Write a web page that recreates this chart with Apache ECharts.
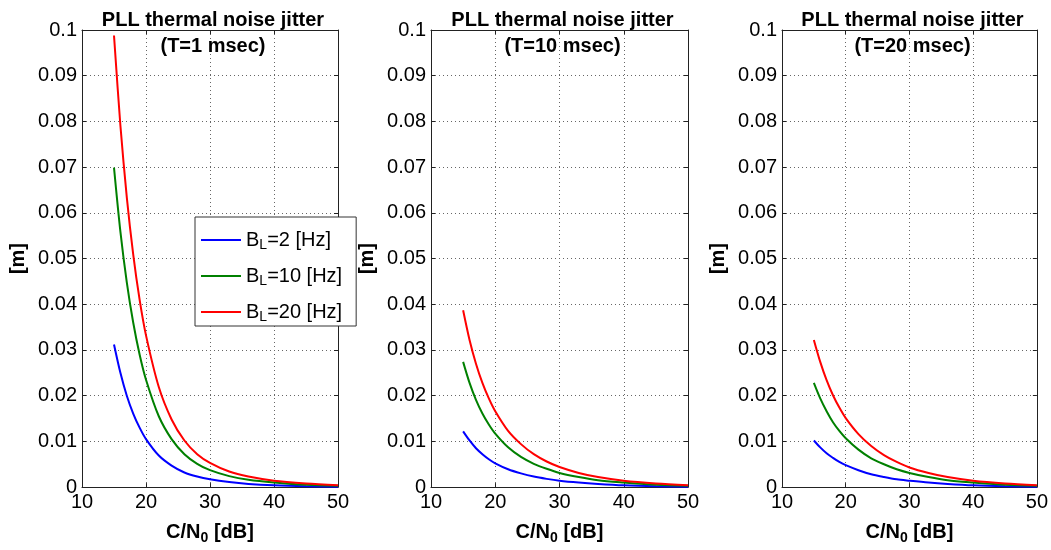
<!DOCTYPE html>
<html>
<head>
<meta charset="utf-8">
<script src="https://cdn.jsdelivr.net/npm/echarts@6/dist/echarts.min.js"></script>
<style>
  html, body { margin: 0; padding: 0; background: #fff; }
  #chartsId { width: 1051px; height: 550px; }
</style>
</head>
<body>
<div id="chartsId"></div>
<script>
// C/N0 [dB] sample points
const cn0 = [15, 16, 17, 18, 19, 20, 22, 24, 26, 28, 30, 33, 36, 40, 45, 50];

// T = 1 msec
const blue1 = [0.0312, 0.0250, 0.0200, 0.0161, 0.0130, 0.0105, 0.0069, 0.0047, 0.0032, 0.0023, 0.0017, 0.0011, 0.0007, 0.0004, 0.0002, 0.0001];
const green1 = [0.0699, 0.0559, 0.0448, 0.0360, 0.0290, 0.0235, 0.0155, 0.0105, 0.0072, 0.0051, 0.0037, 0.0024, 0.0016, 0.0010, 0.0005, 0.0003];
const red1 = [0.0988, 0.0791, 0.0634, 0.0509, 0.0410, 0.0332, 0.0219, 0.0148, 0.0102, 0.0072, 0.0053, 0.0034, 0.0023, 0.0014, 0.0008, 0.0004];

// T = 10 msec
const blue10 = [0.0122, 0.0102, 0.0085, 0.0072, 0.0061, 0.0052, 0.0039, 0.0030, 0.0023, 0.0018, 0.0014, 0.0010, 0.0007, 0.0004, 0.0002, 0.0001];
const green10 = [0.0274, 0.0228, 0.0191, 0.0161, 0.0137, 0.0117, 0.0087, 0.0066, 0.0051, 0.0040, 0.0031, 0.0022, 0.0015, 0.0010, 0.0005, 0.0003];
const red10 = [0.0387, 0.0322, 0.0270, 0.0228, 0.0194, 0.0166, 0.0123, 0.0094, 0.0072, 0.0056, 0.0044, 0.0031, 0.0022, 0.0014, 0.0008, 0.0004];

// T = 20 msec
const blue20 = [0.0102, 0.0087, 0.0074, 0.0064, 0.0055, 0.0048, 0.0037, 0.0028, 0.0022, 0.0017, 0.0014, 0.0010, 0.0007, 0.0004, 0.0002, 0.0001];
const green20 = [0.0228, 0.0194, 0.0166, 0.0142, 0.0123, 0.0107, 0.0082, 0.0063, 0.0050, 0.0039, 0.0031, 0.0022, 0.0015, 0.0010, 0.0005, 0.0003];
const red20 = [0.0322, 0.0274, 0.0234, 0.0201, 0.0174, 0.0151, 0.0116, 0.0090, 0.0070, 0.0055, 0.0043, 0.0031, 0.0022, 0.0014, 0.0008, 0.0004];

const titles = ["(T=1 msec)", "(T=10 msec)", "(T=20 msec)"];
const legendNames = ["BL=2 [Hz]", "BL=10 [Hz]", "BL=20 [Hz]"];
const colors = ["#0000ff", "#008000", "#ff0000"];

const panels = [
  [blue1, green1, red1],
  [blue10, green10, red10],
  [blue20, green20, red20]
];

const font = "Liberation Sans, Arial, sans-serif";
const grids = [
  { left: 82, width: 256 },
  { left: 431, width: 257 },
  { left: 782, width: 255 }
];

let myChart = echarts.init(document.getElementById("chartsId"));

let title = [];
let xAxis = [];
let yAxis = [];
let series = [];
const boxLine = { onZero: false, lineStyle: { color: "#222", width: 1 } };
const tick = { inside: true, length: 4, lineStyle: { color: "#222" } };
const dotted = { show: true, lineStyle: { color: "#666", type: [1, 3], width: 1 } };

grids.forEach(function(g, i) {
  const cx = g.left + g.width / 2 - 2;
  title.push({
    text: "PLL thermal noise jitter",
    left: cx,
    top: 5,
    textAlign: "center",
    textStyle: { fontFamily: font, fontSize: 20, fontWeight: "bold", color: "#000" }
  });
  title.push({
    text: titles[i],
    left: cx,
    top: 31,
    textAlign: "center",
    textStyle: { fontFamily: font, fontSize: 20, fontWeight: "bold", color: "#000" }
  });
  xAxis.push({
    type: "value",
    gridIndex: i,
    min: 10,
    max: 50,
    interval: 10,
    name: "{a|C/N}{s|0}{a| [dB]}",
    nameLocation: "middle",
    nameGap: 27,
    nameTextStyle: {
      rich: {
        a: { fontFamily: font, fontSize: 20, fontWeight: "bold", color: "#000", lineHeight: 26, verticalAlign: "middle" },
        s: { fontFamily: font, fontSize: 14, fontWeight: "bold", color: "#000", lineHeight: 26, verticalAlign: "bottom", padding: [14, 0, 0, 0] }
      }
    },
    axisLine: boxLine,
    axisTick: tick,
    axisLabel: { fontFamily: font, fontSize: 20, color: "#000", margin: 5 },
    splitLine: dotted
  });
  // top edge ticks (box)
  xAxis.push({
    type: "value",
    gridIndex: i,
    position: "top",
    min: 10,
    max: 50,
    interval: 10,
    axisLine: boxLine,
    axisTick: tick,
    axisLabel: { show: false },
    splitLine: { show: false }
  });
  yAxis.push({
    type: "value",
    gridIndex: i,
    min: 0,
    max: 0.1,
    interval: 0.01,
    name: "[m]",
    nameLocation: "middle",
    nameGap: 54,
    nameTextStyle: { fontFamily: font, fontSize: 20, fontWeight: "bold", color: "#000" },
    axisLine: boxLine,
    axisTick: tick,
    axisLabel: {
      fontFamily: font,
      fontSize: 20,
      color: "#000",
      margin: 5,
      formatter: function(value) {
        return parseFloat(value.toFixed(2)).toString();
      }
    },
    splitLine: dotted
  });
  // right edge ticks (box)
  yAxis.push({
    type: "value",
    gridIndex: i,
    position: "right",
    min: 0,
    max: 0.1,
    interval: 0.01,
    axisLine: boxLine,
    axisTick: tick,
    axisLabel: { show: false },
    splitLine: { show: false }
  });
  panels[i].forEach(function(vals, k) {
    series.push({
      name: legendNames[k],
      type: "line",
      xAxisIndex: i * 2,
      yAxisIndex: i * 2,
      showSymbol: false,
      symbol: "none",
      smooth: 0.3,
      lineStyle: { color: colors[k], width: 2 },
      itemStyle: { color: colors[k] },
      data: cn0.map(function(x, j) { return [x, vals[j]]; })
    });
  });
});

let option = {
  backgroundColor: "#fff",
  animation: false,
  title: title,
  grid: grids.map(function(g) {
    return {
      left: g.left,
      width: g.width,
      top: 30,
      height: 462,
      show: false
    };
  }),
  legend: {
    data: legendNames,
    left: 195,
    top: 217,
    orient: "vertical",
    icon: "rect",
    itemWidth: 40,
    itemHeight: 2,
    itemGap: 4,
    padding: [3, 14, 2, 6],
    backgroundColor: "#fff",
    borderColor: "#333",
    borderWidth: 1,
    borderRadius: 0,
    formatter: function(name) {
      return "{a|B}{s|L}{a|" + name.slice(2) + "}";
    },
    textStyle: {
      rich: {
        a: { fontFamily: font, fontSize: 20, color: "#000", lineHeight: 24, verticalAlign: "middle" },
        s: { fontFamily: font, fontSize: 14, color: "#000", lineHeight: 24, verticalAlign: "bottom", padding: [18, 0, 0, 0] }
      }
    }
  },
  xAxis: xAxis,
  yAxis: yAxis,
  series: series
};

myChart.setOption(option);
</script>
</body>
</html>
